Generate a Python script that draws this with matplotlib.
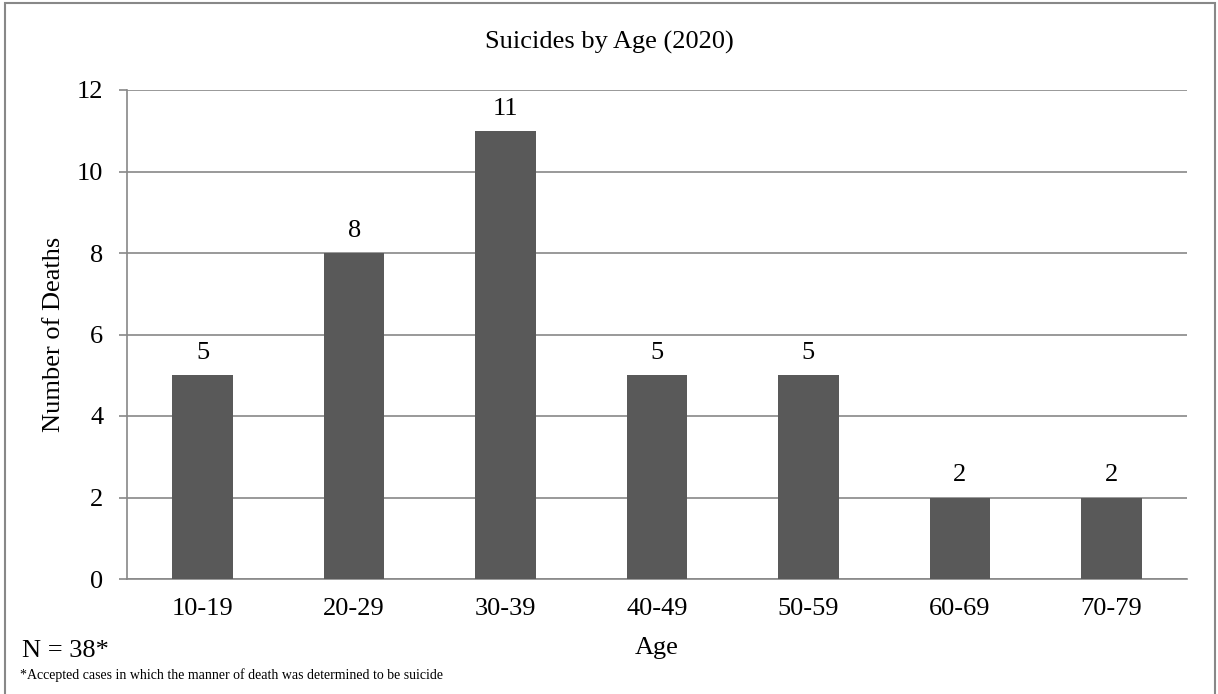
import matplotlib.pyplot as plt
from matplotlib.patches import Rectangle

# Data
age_groups = ["10-19", "20-29", "30-39", "40-49", "50-59", "60-69", "70-79"]
deaths = [5, 8, 11, 5, 5, 2, 2]
y_ticks = [0, 2, 4, 6, 8, 10, 12]

plt.rcParams['font.family'] = ['Liberation Serif', 'DejaVu Serif']

W, H = 1218, 694
fig = plt.figure(figsize=(W / 100, H / 100), dpi=100)
ax = fig.add_axes([127 / W, 1 - 579 / H, 1060 / W, 489 / H])

x = range(len(age_groups))
ax.bar(x, deaths, width=0.4, color='#595959', zorder=3)

for xi, v in zip(x, deaths):
    ax.annotate(str(v), (xi, v), xytext=(0, 8), textcoords='offset points',
                ha='center', va='bottom', fontsize=19)

ax.set_xlim(-0.5, len(age_groups) - 0.5)
ax.set_ylim(0, 12)
ax.set_yticks(y_ticks)
ax.set_xticks(list(x))
ax.set_xticklabels(age_groups)
ax.tick_params(axis='x', length=0, pad=14, labelsize=19)
ax.tick_params(axis='y', length=6, color='#888888', width=1.2, pad=11, labelsize=19)
ax.yaxis.grid(True, color='#888888', linewidth=1.2, zorder=0)

for s in ['top', 'right']:
    ax.spines[s].set_visible(False)
for s in ['left', 'bottom']:
    ax.spines[s].set_color('#888888')
    ax.spines[s].set_linewidth(1.2)

# titles and labels placed in figure pixels
fig.text(0.5, 1 - 42 / H, "Suicides by Age (2020)", fontsize=19, ha='center', va='center')
fig.text(54 / W, 1 - 334 / H, "Number of Deaths", fontsize=19, rotation=90,
         ha='center', va='center')
fig.text(657 / W, 1 - 648 / H, "Age", fontsize=19, ha='center', va='center')

fig.text(22 / W, 1 - 651 / H, "N = 38*", fontsize=19, va='center', ha='left')
fig.text(20 / W, 1 - 675 / H,
         "*Accepted cases in which the manner of death was determined to be suicide",
         fontsize=10, va='center', ha='left')

# outer chart border (bottom edge falls outside the image)
fig.patches.append(Rectangle((5 / W, -3 / H), 1210 / W, 694 / H,
                             transform=fig.transFigure, fill=False,
                             edgecolor='#888888', linewidth=1.5))

fig.savefig("out.png", dpi=100)
